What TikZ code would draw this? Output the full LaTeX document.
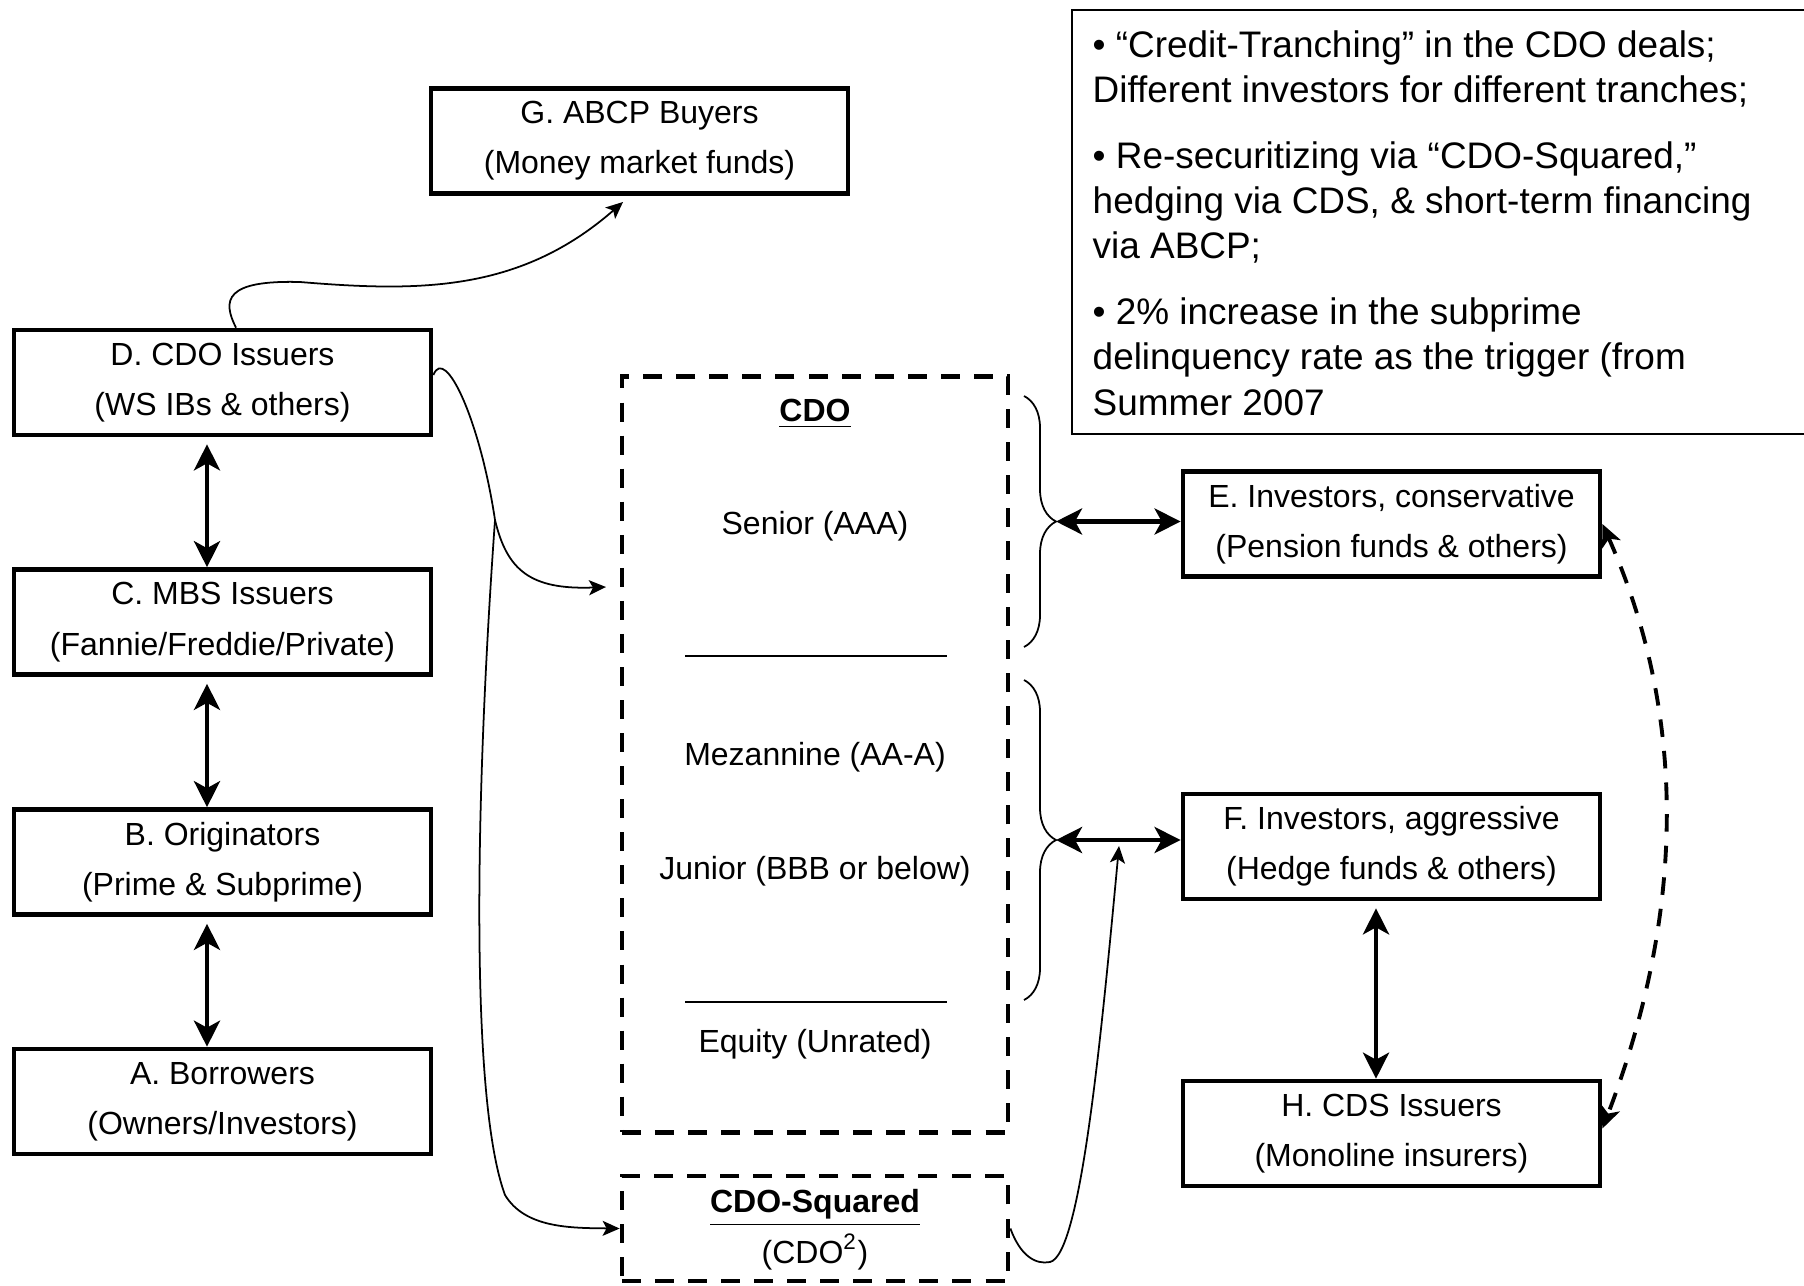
\documentclass[tikz,border=0pt]{standalone}
\usepackage{fontspec}
\setmainfont{Liberation Sans}
\usetikzlibrary{arrows.meta,decorations.pathreplacing,calc}
\begin{document}
\begin{tikzpicture}[x=0.01cm, y=-0.01cm,
  box/.style={draw, line width=1.3pt, minimum width=4.17cm, minimum height=1.05cm, inner sep=0pt, align=center, font=\fontsize{9.1}{14.3}\selectfont},
  dbox/.style={draw, line width=1.3pt, dash pattern=on 5.4pt off 4pt, inner sep=0pt},
  txt/.style={inner sep=0pt, font=\fontsize{9.1}{14.3}\selectfont},
  twoway/.style={{Stealth[length=0.26cm,width=0.26cm,inset=0.07cm]}-{Stealth[length=0.26cm,width=0.26cm,inset=0.07cm]}, line width=1.3pt},
  dashtwoway/.style={{Stealth[length=0.22cm,width=0.2cm,inset=0.06cm]}-{Stealth[length=0.22cm,width=0.2cm,inset=0.06cm]}, line width=1.1pt, dash pattern=on 5pt off 4pt},
  thinarrow/.style={-{Stealth[length=0.17cm,width=0.15cm,inset=0.04cm]}, line width=0.5pt},
  tranche/.style={decorate, decoration={brace, amplitude=0.32cm}, line width=0.5pt}
]
\useasboundingbox (0,0) rectangle (1804,1285);

% left column
\node[box] (G) at (639.5,141) {G. ABCP Buyers\\(Money market funds)};
\node[box] (D) at (222.5,382.5) {D. CDO Issuers\\(WS IBs \& others)};
\node[box] (C) at (222.5,622) {C. MBS Issuers\\(Fannie/Freddie/Private)};
\node[box] (B) at (222.5,862) {B. Originators\\(Prime \& Subprime)};
\node[box] (A) at (222.5,1101.5) {A. Borrowers\\(Owners/Investors)};

% right column
\node[box] (E) at (1391.5,524) {E. Investors, conservative\\(Pension funds \& others)};
\node[box] (F) at (1391.5,846.5) {F. Investors, aggressive\\(Hedge funds \& others)};
\node[box] (H) at (1391.5,1133.5) {H. CDS Issuers\\(Monoline insurers)};

% CDO boxes
\node[dbox, minimum width=3.86cm, minimum height=7.55cm] (cdo) at (815,754.5) {};
\node[dbox, minimum width=3.86cm, minimum height=1.05cm] (cdo2) at (815,1228.5) {};

\node[txt] (cdotitle) at (815,414) {\underline{\textbf{CDO}}};
\node[txt] (senior) at (815,526) {Senior (AAA)};
\draw[line width=0.6pt] (685,656) -- (947,656);
\node[txt] (mezz) at (815,757) {Mezannine (AA-A)};
\node[txt] (junior) at (815,871) {Junior (BBB or below)};
\draw[line width=0.6pt] (685,1002) -- (947,1002);
\node[txt] (equity) at (815,1044) {Equity (Unrated)};
\node[txt] (cdo2title) at (815,1208) {\underline{\textbf{CDO-Squared}}};
\node[txt] (cdo2sub) at (815,1252) {(CDO\textsuperscript{2})};

% notes box
\node[draw, line width=0.6pt, minimum width=7.33cm, minimum height=4.24cm, anchor=north west, inner sep=0pt] (notebox) at (1071,9) {};
\node[anchor=north west, inner sep=0pt, align=left, font=\fontsize{10.5}{12.9}\selectfont] (notes) at (1092,30) {• “Credit-Tranching” in the CDO deals;\\Different investors for different tranches;\\[5.7pt]• Re-securitizing via “CDO-Squared,”\\hedging via CDS, \& short-term financing\\via ABCP;\\[5.7pt]• 2\% increase in the subprime\\delinquency rate as the trigger (from\\Summer 2007};

% braces
\draw[tranche] (1024,396) -- (1024,647);
\draw[tranche] (1024,680) -- (1024,1000);
\coordinate (bt1) at (1056,521.5);
\coordinate (bt2) at (1056,840);

% double arrows
\draw[twoway] (bt1) -- (bt1 -| E.west);
\draw[twoway] (bt2) -- (bt2 -| F.west);
\draw[twoway, shorten <=0.07cm] ([xshift=-0.155cm]D.south) -- ([xshift=-0.155cm]C.north);
\draw[twoway, shorten <=0.07cm] ([xshift=-0.155cm]C.south) -- ([xshift=-0.155cm]B.north);
\draw[twoway, shorten <=0.07cm] ([xshift=-0.155cm]B.south) -- ([xshift=-0.155cm]A.north);
\draw[twoway, shorten <=0.07cm] ([xshift=-0.155cm]F.south) -- ([xshift=-0.155cm]H.north);

% dashed E-H
\draw[dashtwoway] (E.east) to[out=-66, in=69, looseness=0.93] ([yshift=0.05cm]H.east);

% thin curves
\coordinate (gin) at (623,202);
\coordinate (cdoin) at (606,587);
\coordinate (fx) at (1119,846);
\draw[thinarrow] ([xshift=0.135cm]D.north) .. controls (222,300) and (225,280) .. (300,282) .. controls (420,292) and (520,292) .. (gin);
\draw[thinarrow] ([yshift=0.075cm]D.east) .. controls (445,345) and (480,420) .. (495,520) coordinate (J) .. controls (507,570) and (530,590) .. (cdoin);
\draw[thinarrow] (J) .. controls (475,800) and (470,1100) .. (505,1195) .. controls (525,1228) and (570,1228) .. (cdo2.west);
\draw[thinarrow] (cdo2.east) .. controls (1020,1255) and (1035,1265) .. (1050,1262) .. controls (1080,1255) and (1100,1050) .. (fx);
\end{tikzpicture}
\end{document}
